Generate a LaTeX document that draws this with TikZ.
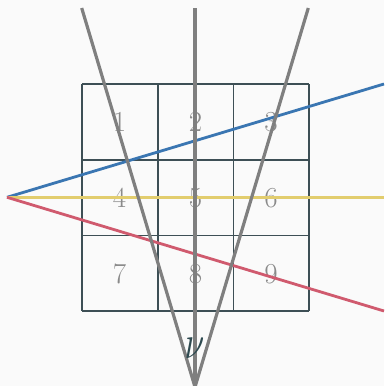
\documentclass[tikz,border=0pt]{standalone}
\definecolor{bg}{HTML}{FAFAFA}
\definecolor{gridc}{HTML}{3D4F55}
\definecolor{rayg}{HTML}{7F7F7F}
\definecolor{numc}{HTML}{8A8A8A}
\definecolor{blueray}{HTML}{3A76B2}
\definecolor{yelray}{HTML}{E2CD6E}
\definecolor{redray}{HTML}{D05A6E}
\definecolor{nuc}{HTML}{2E4A50}
\begin{document}
\begin{tikzpicture}[x=1pt,y=-1pt,
  gridline/.style={draw=gridc,line width=1.6pt},
  num/.style={text=numc,font=\fontsize{29}{29}\selectfont,inner sep=0pt},
  grayray/.style={draw=rayg,line width=3.2pt},
  colray/.style={line width=2.8pt}]
\fill[bg] (0,0) rectangle (384,386);
\useasboundingbox (0,0) rectangle (384,386);
% grid
\foreach \x in {82,157.7,233.5,309} \draw[gridline] (\x,84) -- (\x,311);
\foreach \y in {84,160,235.5,311} \draw[gridline] (82,\y) -- (309,\y);
% numbers
\node[num] (n1) at (119.5,122) {1};
\node[num] (n2) at (195.5,122) {2};
\node[num] (n3) at (271,122) {3};
\node[num] (n4) at (119.5,198) {4};
\node[num] (n5) at (195.5,198) {5};
\node[num] (n6) at (271,198) {6};
\node[num] (n7) at (119.5,274) {7};
\node[num] (n8) at (195.5,274) {8};
\node[num] (n9) at (271,274) {9};
% coordinates
\coordinate (L) at (7,197.3);
\coordinate (B) at (384,84);
\coordinate (Y) at (384,197.3);
\coordinate (R) at (384,311);
\coordinate (V) at (195,387);
\coordinate (TL) at (81.7,8);
\coordinate (TM) at (195,8);
\coordinate (TR) at (308.3,8);
% colored rays
\draw[colray,draw=blueray] (L) -- (B);
\draw[colray,draw=yelray] (L) -- (Y);
\draw[colray,draw=redray] (L) -- (R);
% gray rays
\draw[grayray] (V) -- (TL);
\draw[grayray] (V) -- (TM);
\draw[grayray] (V) -- (TR);
\node[text=nuc,font=\fontsize{24.88}{24.88}\selectfont,inner sep=0pt,xscale=1.45,yscale=1.9] (nu) at (194.5,348) {$\nu$};
\end{tikzpicture}
\end{document}
